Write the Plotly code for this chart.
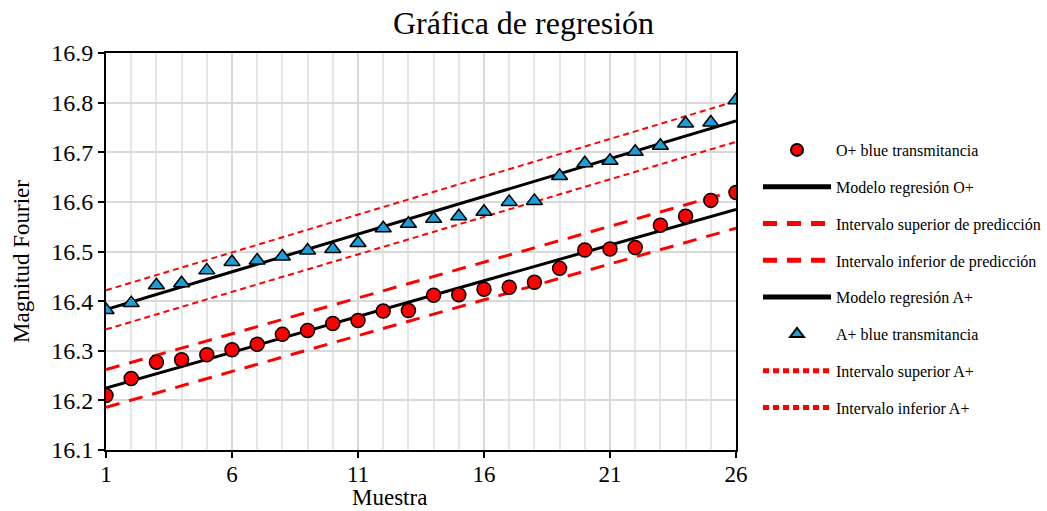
import plotly.graph_objects as go

muestra = list(range(1, 27))
o_plus = [16.210, 16.244, 16.277, 16.282, 16.292, 16.302, 16.313, 16.333, 16.341, 16.355,
          16.361, 16.380, 16.381, 16.412, 16.413, 16.424, 16.428, 16.438, 16.466, 16.503,
          16.505, 16.508, 16.553, 16.571, 16.603, 16.619]
a_plus = [16.382, 16.396, 16.432, 16.436, 16.462, 16.479, 16.482, 16.490, 16.502, 16.505,
          16.517, 16.547, 16.556, 16.566, 16.571, 16.580, 16.600, 16.602, 16.652, 16.678,
          16.683, 16.701, 16.713, 16.758, 16.760, 16.805]

line_x = [1, 26]
modelo_o = [16.225, 16.585]
sup_o = [16.262, 16.623]
inf_o = [16.186, 16.547]
modelo_a = [16.383, 16.763]
sup_a = [16.422, 16.803]
inf_a = [16.343, 16.721]

FONT = "Liberation Serif"
fig = go.Figure()

# lines first (drawn underneath), points last; legendrank sets legend order
fig.add_trace(go.Scatter(x=line_x, y=modelo_o, mode="lines", name="Modelo regresión O+",
                         legendgroup="g2", legendrank=2, line=dict(color="black", width=3)))
fig.add_trace(go.Scatter(x=line_x, y=sup_o, mode="lines", name="Intervalo superior de predicción",
                         legendgroup="g3", legendrank=3,
                         line=dict(color="#ff0000", width=3, dash="14px,10px")))
fig.add_trace(go.Scatter(x=line_x, y=inf_o, mode="lines", name="Intervalo inferior de predicción",
                         legendgroup="g4", legendrank=4,
                         line=dict(color="#ff0000", width=3, dash="14px,10px")))
fig.add_trace(go.Scatter(x=line_x, y=modelo_a, mode="lines", name="Modelo regresión A+",
                         legendgroup="g5", legendrank=5, line=dict(color="black", width=3)))
fig.add_trace(go.Scatter(x=line_x, y=sup_a, mode="lines", name="Intervalo superior A+",
                         legendgroup="g7", legendrank=7,
                         line=dict(color="#ff0000", width=2, dash="6px,4px")))
fig.add_trace(go.Scatter(x=line_x, y=inf_a, mode="lines", name="Intervalo inferior A+",
                         legendgroup="g8", legendrank=8,
                         line=dict(color="#ff0000", width=2, dash="6px,4px")))
fig.add_trace(go.Scatter(x=muestra, y=o_plus, mode="markers", name="O+ blue transmitancia",
                         legendgroup="g1", legendrank=1,
                         marker=dict(symbol="circle", size=14, color="#ff0000",
                                     line=dict(color="black", width=1.5))))
fig.add_trace(go.Scatter(x=muestra, y=a_plus, mode="markers", name="A+ blue transmitancia",
                         legendgroup="g6", legendrank=6,
                         marker=dict(symbol="triangle-up", size=14, color="#1a9fd8",
                                     line=dict(color="black", width=1.5))))

fig.update_layout(
    width=1047, height=511,
    margin=dict(l=106, r=311, t=53, b=61, autoexpand=False),
    paper_bgcolor="white", plot_bgcolor="white",
    font=dict(family=FONT, color="black"),
    title=dict(text="Gráfica de regresión", x=0.5, xanchor="center", y=0.955, yanchor="middle",
               font=dict(size=32, family=FONT, color="black")),
    showlegend=True,
    legend=dict(xref="container", yref="container", x=758 / 1047, y=1 - 133 / 511,
                xanchor="left", yanchor="top", traceorder="grouped", maxheight=420,
                tracegroupgap=13, itemwidth=68, itemsizing="constant",
                font=dict(size=16, family=FONT, color="black"), bgcolor="rgba(0,0,0,0)"),
)
fig.add_annotation(text="Muestra", xref="paper", yref="paper",
                   x=(389 - 106) / 630, y=-(497 - 450) / 397, xanchor="center", yanchor="middle",
                   showarrow=False, font=dict(size=23, family=FONT, color="black"))
fig.add_annotation(text="Magnitud Fourier", xref="paper", yref="paper", textangle=-90,
                   x=-(106 - 21) / 630, y=(450 - 262) / 397, xanchor="center", yanchor="middle",
                   showarrow=False, font=dict(size=23, family=FONT, color="black"))
fig.update_xaxes(range=[1, 26], tick0=1, dtick=5, ticks="outside", ticklen=6, tickwidth=2,
                 tickcolor="black", showline=True, linecolor="black", linewidth=2, mirror=True,
                 showgrid=True, gridcolor="#d9d9d9", gridwidth=2, ticklabelstandoff=-4,
                 minor=dict(dtick=1, tick0=1, showgrid=True, gridcolor="#e6e6e6", gridwidth=2),
                 tickfont=dict(size=23, family=FONT), zeroline=False)
fig.update_yaxes(range=[16.1, 16.9], dtick=0.1, tickformat=".1f", ticks="outside", ticklen=6,
                 tickwidth=2, tickcolor="black", showline=True, linecolor="black", linewidth=2,
                 mirror=True, showgrid=True, gridcolor="#d9d9d9", gridwidth=2,
                 tickfont=dict(size=24, family=FONT), zeroline=False)

fig.write_html("out.html")
